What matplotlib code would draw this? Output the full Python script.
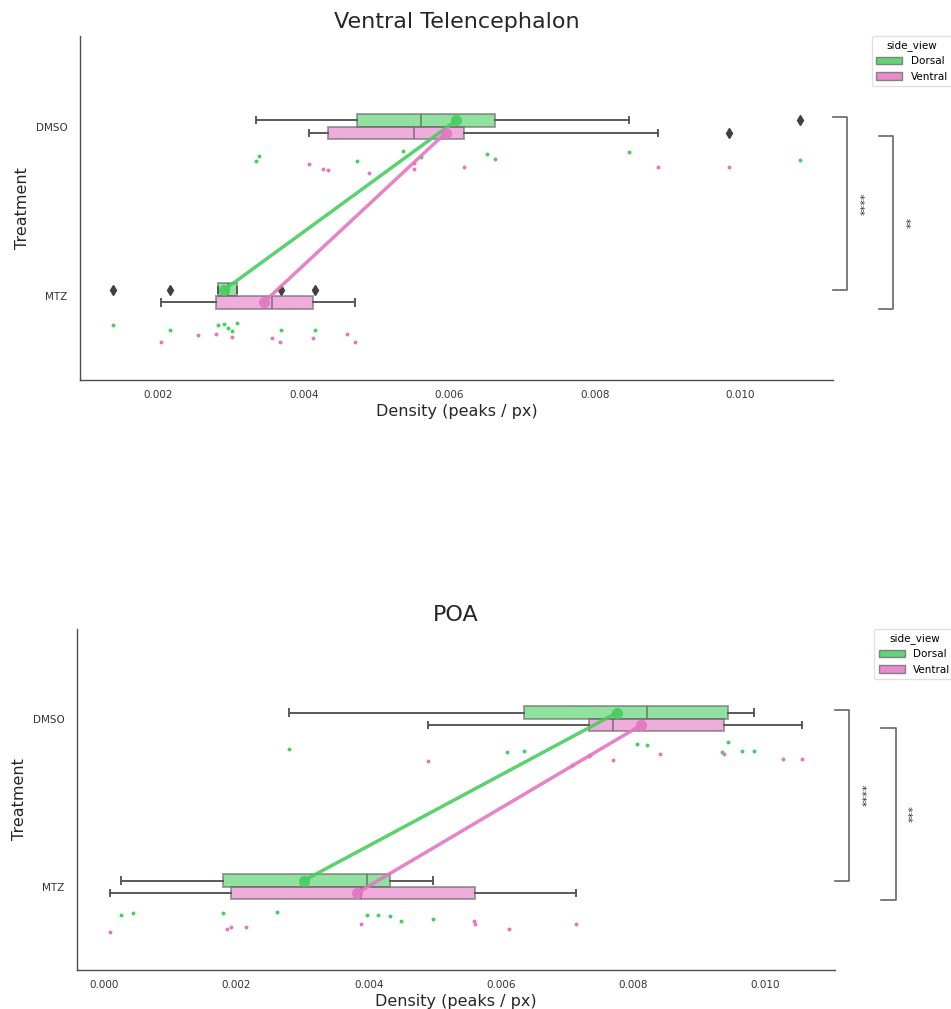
import numpy as np
import matplotlib.pyplot as plt
from matplotlib.patches import Patch

treatments = ["DMSO", "MTZ"]
sides = ["Dorsal", "Ventral"]

# Ventral Telencephalon - density (peaks / px) per sample
vt_dorsal_dmso = [0.00335, 0.00339, 0.00473, 0.00536, 0.00561, 0.00652, 0.00663, 0.00847, 0.01082]
vt_ventral_dmso = [0.00408, 0.00426, 0.00433, 0.00490, 0.00551, 0.00552, 0.00621, 0.00887, 0.00985]
vt_dorsal_mtz = [0.00138, 0.00217, 0.00283, 0.00290, 0.00296, 0.00302, 0.00309, 0.00369, 0.00416]
vt_ventral_mtz = [0.00204, 0.00255, 0.00280, 0.00302, 0.00357, 0.00367, 0.00413, 0.00459, 0.00470]
# point-plot estimates as drawn (DMSO, MTZ)
vt_mean_dorsal = [0.00610, 0.00291]
vt_mean_ventral = [0.00595, 0.00345]
vt_stars = ["****", "**"]

# POA
poa_dorsal_dmso = [0.00279, 0.00609, 0.00635, 0.00806, 0.00821, 0.00935, 0.00944, 0.00965, 0.00982]
poa_ventral_dmso = [0.00489, 0.00708, 0.00733, 0.00735, 0.00770, 0.00841, 0.00938, 0.01027, 0.01055]
poa_dorsal_mtz = [0.00026, 0.00044, 0.00180, 0.00262, 0.00397, 0.00414, 0.00432, 0.00449, 0.00497]
poa_ventral_mtz = [0.00009, 0.00186, 0.00192, 0.00215, 0.00388, 0.00559, 0.00560, 0.00612, 0.00714]
poa_mean_dorsal = [0.00776, 0.00302]
poa_mean_ventral = [0.00812, 0.00382]
poa_stars = ["****", "***"]

colors = {"Dorsal": "#48cd5f", "Ventral": "#e377c2"}
box_off = {"Dorsal": -0.0375, "Ventral": 0.0375}
strip_off = {"Dorsal": 0.17, "Ventral": 0.24}

plt.rcParams["font.family"] = "DejaVu Sans"


def draw_panel(ax, title, groups, means, stars, seed):
    rng = np.random.default_rng(seed)
    for side in sides:
        c = colors[side]
        for i, t in enumerate(treatments):
            vals = np.array(groups[side][i])
            pos = i + box_off[side]
            ax.boxplot(
                vals, positions=[pos], widths=0.075, orientation="horizontal",
                patch_artist=True, manage_ticks=False,
                boxprops=dict(facecolor=c, alpha=0.6, edgecolor="0.4", linewidth=1.4),
                whiskerprops=dict(color="0.35", linewidth=1.4),
                capprops=dict(color="0.35", linewidth=1.4),
                medianprops=dict(color="0.4", linewidth=1.2, alpha=0.8),
                flierprops=dict(marker="d", markerfacecolor="0.25", markeredgecolor="0.25",
                                markersize=5),
                zorder=2,
            )
            jitter = rng.uniform(-0.035, 0.035, len(vals))
            ax.scatter(vals, i + strip_off[side] + jitter, s=8, color=c,
                       linewidths=0, zorder=3)
        m = means[side]
        ys = [k + box_off[side] for k in range(len(treatments))]
        ax.plot(m, ys, color=c, lw=2.5, alpha=0.9, marker="o", markersize=7,
                zorder=4, solid_capstyle="round")

    ax.set_yticks(range(len(treatments)))
    ax.set_yticklabels(treatments)
    ax.set_ylim(1.495, -0.535)
    ax.margins(x=0.048)
    ax.set_title(title, fontsize=16, pad=6, color="0.15")
    ax.set_xlabel("Density (peaks / px)", fontsize=11.5, labelpad=3, color="0.15")
    ax.set_ylabel("Treatment", fontsize=11.5, color="0.15")
    ax.tick_params(axis="both", length=0, labelsize=7.5, labelcolor="0.2")
    ax.tick_params(axis="y", pad=9)
    ax.tick_params(axis="x", pad=7)
    for s in ["top", "right"]:
        ax.spines[s].set_visible(False)
    for s in ["left", "bottom"]:
        ax.spines[s].set_color("0.3")
        ax.spines[s].set_linewidth(1.0)

    handles = [Patch(facecolor=colors[s], edgecolor="0.45", alpha=0.85, label=s) for s in sides]
    leg = ax.legend(handles=handles, title="side_view", loc="upper left",
                    bbox_to_anchor=(1.052, 1.0), borderaxespad=0, fontsize=7.5,
                    title_fontsize=7.5, frameon=True, handlelength=2.5)
    leg.get_frame().set_edgecolor("0.85")

    # significance brackets (Dorsal and Ventral, DMSO vs MTZ)
    tr = ax.get_yaxis_transform()
    brackets = [(1.0, 1.019, -0.055, 0.963, 1.043), (1.061, 1.080, 0.054, 1.076, 1.104)]
    for (x0, x1, y0, y1, xt), star in zip(brackets, stars):
        ax.plot([x0, x1, x1, x0], [y0, y0, y1, y1], color="0.4", lw=1.2,
                transform=tr, clip_on=False)
        ax.text(xt, (y0 + y1) / 2, star, rotation=90, ha="center", va="center",
                fontsize=8, color="0.2", transform=tr)


fig = plt.figure(figsize=(9.51, 10.09), dpi=100)
ax1 = fig.add_axes([0.0841, 0.6234, 0.7918, 0.3409])
ax2 = fig.add_axes([0.0810, 0.0387, 0.7970, 0.3379])

draw_panel(
    ax1, "Ventral Telencephalon",
    {"Dorsal": [vt_dorsal_dmso, vt_dorsal_mtz], "Ventral": [vt_ventral_dmso, vt_ventral_mtz]},
    {"Dorsal": vt_mean_dorsal, "Ventral": vt_mean_ventral},
    vt_stars, seed=4,
)
draw_panel(
    ax2, "POA",
    {"Dorsal": [poa_dorsal_dmso, poa_dorsal_mtz], "Ventral": [poa_ventral_dmso, poa_ventral_mtz]},
    {"Dorsal": poa_mean_dorsal, "Ventral": poa_mean_ventral},
    poa_stars, seed=7,
)

fig.savefig("out.png", dpi=100)
